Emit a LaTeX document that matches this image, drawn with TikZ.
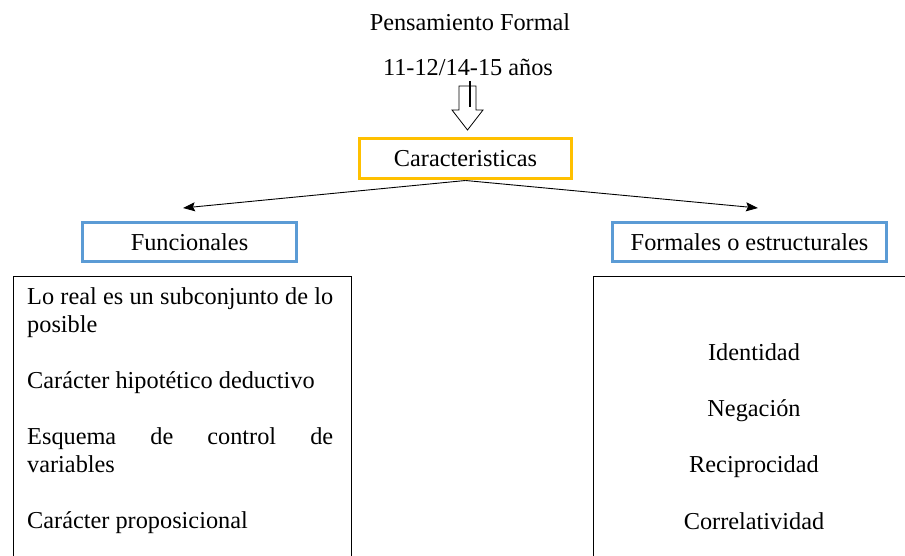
\documentclass[tikz,border=0pt]{standalone}
\usepackage{fontspec}
\setmainfont{Liberation Serif}
\usetikzlibrary{positioning,arrows.meta}
\definecolor{cajaazul}{HTML}{5B9BD5}
\definecolor{cajaoro}{HTML}{FFC000}

\begin{document}
\begin{tikzpicture}[x=1pt,y=-1pt,
    texto/.style={font=\fontsize{24.3}{28}\selectfont, inner sep=0pt},
    cajaoro/.style={draw=cajaoro, line width=3pt, minimum width=212pt, minimum height=40pt, texto},
    cajaazul/.style={draw=cajaazul, line width=3pt, minimum height=39pt, texto},
    cajagrande/.style={draw=black, line width=1.2pt, anchor=north west, minimum height=300pt}]
    \useasboundingbox (0,0) rectangle (905,556);
    \node[texto] (pens) at (470,22) {Pensamiento Formal}; % titulo
    \node[texto] (edad) at (468,67) {11-12/14-15 años}; % edades
    \draw[line width=0.8pt, fill=white] (459,86) -- (459,110) -- (452,110) -- (467.5,130) -- (483,110) -- (476,110) -- (476,86) -- cycle; % flecha hueca
    \draw[line width=1.6pt] (470,81) -- (470,107); % linea dentro de la flecha
    \node[cajaoro] (car) at (465.5,159) {Caracteristicas};
    \node[cajaazul, minimum width=214pt] (fun) at (189.5,242) {Funcionales};
    \node[cajaazul, minimum width=274pt] (for) at (749.5,242) {Formales o estructurales};
    \coordinate (finfun) at (183,208);
    \coordinate (finfor) at (758,208);
    \draw[line width=0.9pt][-{Stealth[length=12pt,width=9pt,inset=2pt]}] (car.south) -- (finfun); % a funcionales
    \draw[line width=0.9pt][-{Stealth[length=12pt,width=9pt,inset=2pt]}] (car.south) -- (finfor); % a formales
    \node[cajagrande, minimum width=338pt] (izq) at (13,276) {}; % caja de la izquierda
    \node[cajagrande, minimum width=320pt] (der) at (593,276) {}; % caja de la derecha
    \node[texto, anchor=north west, text width=306pt, align=justify] (lista) at (27,287.5)
        {Lo real es un subconjunto de lo\linebreak posible\\[28pt]
         Carácter hipotético deductivo\\[28pt]
         Esquema de control de\linebreak variables\\[28pt]
         Carácter proposicional};
    \node[texto] (ide) at (754,352) {Identidad};
    \node[texto] (neg) at (754,411) {Negación};
    \node[texto] (rec) at (754,467) {Reciprocidad};
    \node[texto] (cor) at (754,521) {Correlatividad};
\end{tikzpicture}
\end{document}
